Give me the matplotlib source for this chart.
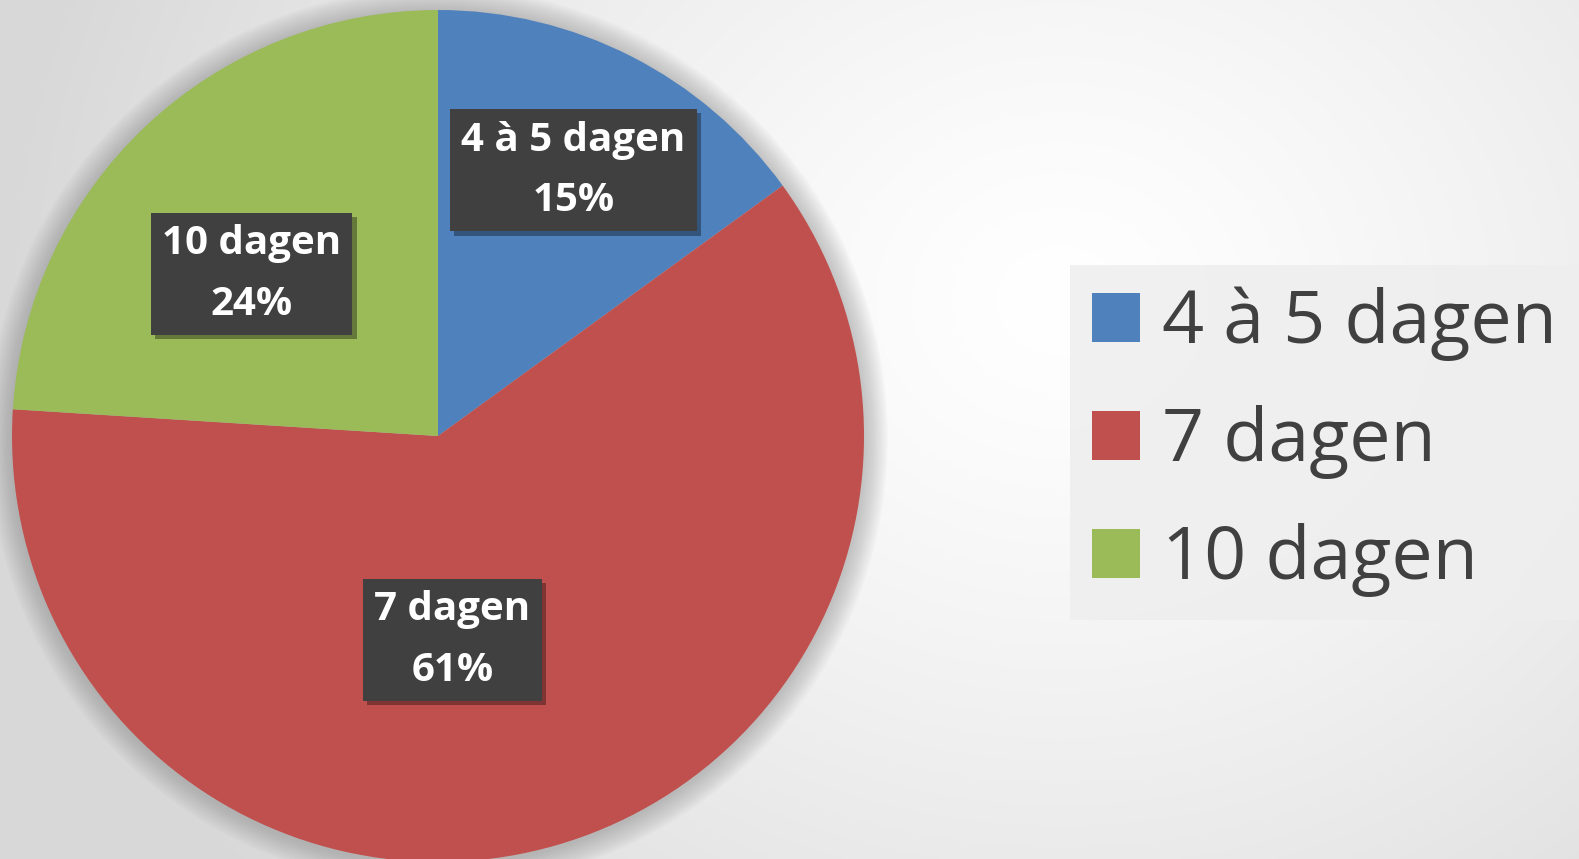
import numpy as np
import matplotlib
matplotlib.use("Agg")
import matplotlib.pyplot as plt
from matplotlib.patches import Circle
import matplotlib.patheffects as pe

categories = ["4 à 5 dagen", "7 dagen", "10 dagen"]
values = [15, 61, 24]
colors = ["#4F81BD", "#C0504D", "#9BBB59"]

W, H, DPI = 1579, 859, 100
fig = plt.figure(figsize=(W / DPI, H / DPI), dpi=DPI)

# background radial gradient
bg = fig.add_axes([0, 0, 1, 1], zorder=-10)
yy, xx = np.mgrid[0:H, 0:W]
cx, cy = 1060, 300
d = np.sqrt(((xx - cx) / 1050.0) ** 2 + ((yy - cy) / 900.0) ** 2)
d = np.clip(d, 0, 1)
val = 1.0 - 0.15 * d ** 1.3
img = np.dstack([val, val, val])
bg.imshow(img, extent=[0, W, H, 0], aspect="auto", interpolation="bilinear")
bg.set_xlim(0, W)
bg.set_ylim(H, 0)
bg.axis("off")

# pie axes
cxp, cyp, R = 438, 423, 426
ax = fig.add_axes([(cxp - R) / W, (cyp - R) / H, 2 * R / W, 2 * R / H])
ax.set_facecolor("none")

wedges, _ = ax.pie(values, colors=colors, startangle=90, counterclock=False,
                   radius=1.0, wedgeprops=dict(linewidth=0))
for w in wedges:
    w.set_zorder(2)
ax.set_xlim(-1, 1)
ax.set_ylim(-1, 1)
ax.set_aspect("equal")
ax.axis("off")

# soft shadow around pie
for i in range(14):
    r = 1.0 + 0.004 * (i + 1)
    ax.add_patch(Circle((0.0, -0.004), r, facecolor="#808080", edgecolor="none",
                        alpha=0.035, zorder=0, clip_on=False))

# data labels
label_pos = [(0.70, 63), (0.48, -86), (0.58, 139)]
font = "Open Sans"
for cat, v, (rr, ang) in zip(categories, values, label_pos):
    x = rr * np.cos(np.radians(ang))
    y = rr * np.sin(np.radians(ang))
    txt = f"{cat}\n{v}%"
    t = ax.text(x, y, txt, ha="center", va="center", fontsize=29,
                fontweight="bold", family=font, color="white", linespacing=1.72,
                bbox=dict(boxstyle="square,pad=0.28", facecolor="#404040",
                          edgecolor="none"), zorder=4)
    t.get_bbox_patch().set_path_effects(
        [pe.SimplePatchShadow(offset=(3, -3), shadow_rgbFace="black", alpha=0.35),
         pe.Normal()])

leg = fig.legend(wedges, categories, loc="center left",
                 bbox_to_anchor=(1070 / W, 1 - 442 / H),
                 prop=dict(family=font, size=53), labelcolor="#404040",
                 frameon=True, fancybox=False, handlelength=0.65, handleheight=0.65,
                 handletextpad=0.3, labelspacing=0.6, borderpad=0.3,
                 borderaxespad=0)
frame = leg.get_frame()
frame.set_facecolor("#eeeeee")
frame.set_alpha(0.85)
frame.set_edgecolor("none")

fig.savefig("out.png", dpi=DPI)
